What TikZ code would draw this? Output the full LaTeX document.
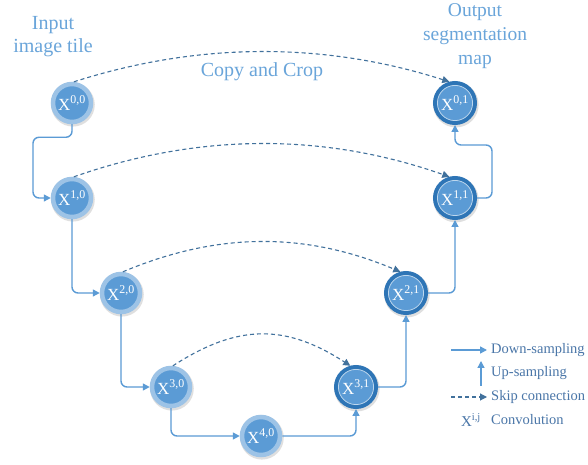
\documentclass[tikz,border=0pt]{standalone}
\usepackage{fontspec}
\setmainfont{Liberation Serif}
\usetikzlibrary{arrows.meta,shadows}
\definecolor{nodefill}{HTML}{5B9BD5}
\definecolor{ringlight}{HTML}{9DC3E6}
\definecolor{ringdark}{HTML}{2E75B6}
\definecolor{innerline}{HTML}{BDD7EE}
\definecolor{flowc}{HTML}{5B9BD5}
\definecolor{skipc}{HTML}{41719C}
\definecolor{titlec}{HTML}{6AA5DA}
\definecolor{legc}{HTML}{4A76A8}
\begin{document}
\begin{tikzpicture}[x=1pt,y=1pt,
  enc/.style={circle, fill=nodefill, draw=ringlight, line width=4.5pt, minimum size=38pt, inner sep=0pt,
    text=white, font=\fontsize{17}{17}\selectfont,
    drop shadow={opacity=0.25, shadow xshift=0.8pt, shadow yshift=-1.5pt, shadow scale=1.15}},
  dec/.style={enc, draw=ringdark, line width=4.5pt, minimum size=39.5pt},
  decinner/.style={draw=innerline, line width=0.8pt},
  flow/.style={draw=flowc, line width=1.4pt, rounded corners=6pt, -{Triangle[length=7pt,width=7pt]}},
  skip/.style={draw=skipc, line width=1.1pt, dash pattern=on 4pt off 3pt, -{Triangle[length=7pt,width=7pt]}},
  title/.style={text=titlec, font=\fontsize{20}{23}\selectfont, align=center},
  leg/.style={text=legc, font=\fontsize{14.5}{15}\selectfont, anchor=west, inner sep=2pt}
]
\fill[white] (0,0) rectangle (588,465);
\useasboundingbox (0,0) rectangle (588,465);

% titles
\node[title] (tin) at (53,428.5) {Input\\image tile};
\node[title, font=\fontsize{19.5}{24}\selectfont] (tout) at (475,429) {Output\\segmentation\\map};
\node[title] (tcc) at (262,393) {Copy and Crop};

% encoder nodes
\node[enc] (x00) at (72,362) {X\textsuperscript{0,0}};
\node[enc] (x10) at (72,267) {X\textsuperscript{1,0}};
\node[enc] (x20) at (121,172) {X\textsuperscript{2,0}};
\node[enc] (x30) at (171,78) {X\textsuperscript{3,0}};
\node[enc] (x40) at (261,29) {X\textsuperscript{4,0}};
% decoder nodes
\node[dec] (x31) at (356,78) {X\textsuperscript{3,1}};
\node[dec] (x21) at (406,172) {X\textsuperscript{2,1}};
\node[dec] (x11) at (455,267) {X\textsuperscript{1,1}};
\node[dec] (x01) at (455,362) {X\textsuperscript{0,1}};
\foreach \n in {x31,x21,x11,x01} \draw[decinner] (\n.center) circle[radius=17.6pt];

% flow connectors
\draw[flow] (x00.south) -- ++(0,-13) -- ++(-39,0) |- (x10.west);
\draw[flow] (x10.south) |- (x20.west);
\draw[flow] (x20.south) |- (x30.west);
\draw[flow] (x30.south) |- (x40.west);
\draw[flow] (x40.east) -| (x31.south);
\draw[flow] (x31.east) -| (x21.south);
\draw[flow] (x21.east) -| (x11.south);
\draw[flow] (x11.east) -- ++(15,0) -- ++(0,53) -| (x01.south);

% skip connections
\draw[skip] (x00.85) .. controls +(125,40) and +(-125,40) .. (x01.105);
\draw[skip] (x10.85) .. controls +(125,44) and +(-125,44) .. (x11.105);
\draw[skip] (x20.85) .. controls +(95,40) and +(-95,40) .. (x21.105);
\draw[skip] (x30.85) .. controls +(65,42) and +(-65,42) .. (x31.105);

% legend
\coordinate (ld1) at (451,115); \coordinate (ld2) at (487,115);
\draw[flow] (ld1) -- (ld2);
\node[leg] (ldt) at (489,115) {Down-sampling};
\coordinate (lu1) at (481,79); \coordinate (lu2) at (481,104);
\draw[flow] (lu1) -- (lu2);
\node[leg] (lut) at (489,92) {Up-sampling};
\coordinate (ls1) at (451,68); \coordinate (ls2) at (487,68);
\draw[skip] (ls1) -- (ls2);
\node[leg] (lst) at (489,68) {Skip connection};
\node[text=legc, font=\fontsize{15}{15}\selectfont] (lx) at (471,45) {X\textsuperscript{i,j}};
\node[leg] (lct) at (489,45) {Convolution};
\end{tikzpicture}
\end{document}
